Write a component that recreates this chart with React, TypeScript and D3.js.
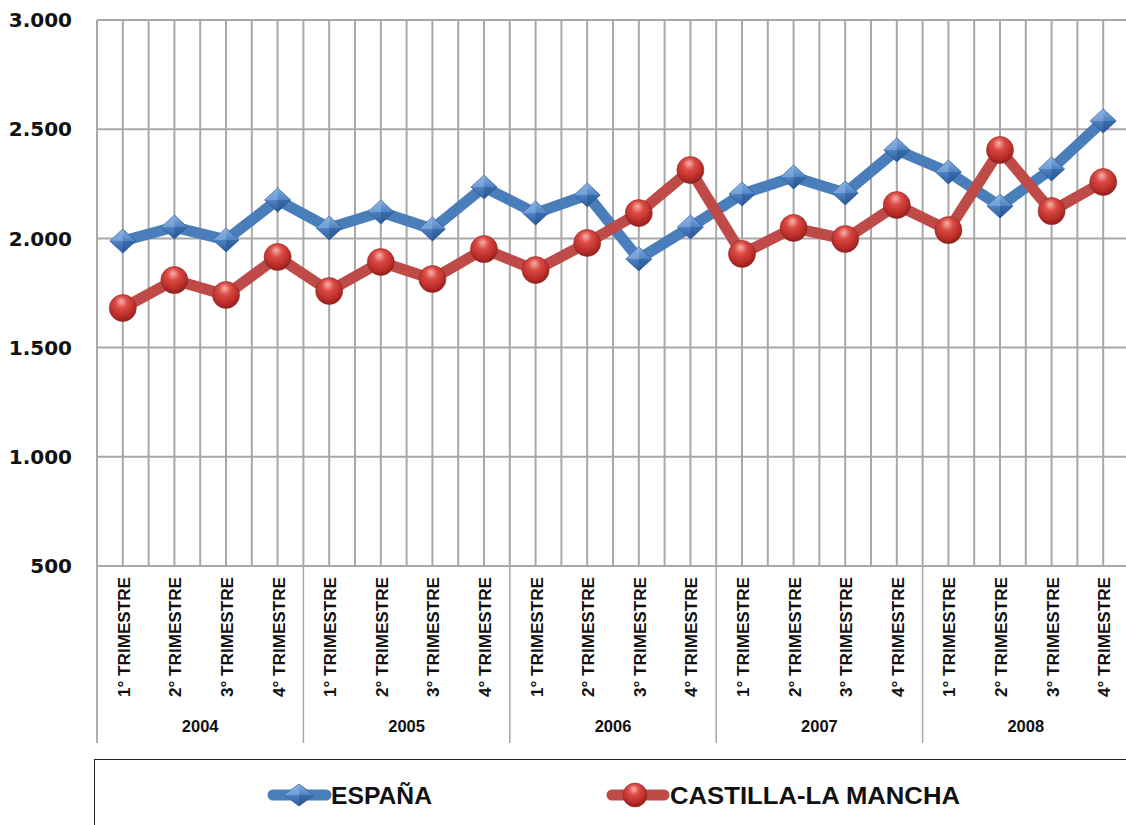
import React from "react";
import * as d3 from "d3";

const years = ["2004", "2005", "2006", "2007", "2008"];
const quarters = ["1° TRIMESTRE", "2° TRIMESTRE", "3° TRIMESTRE", "4° TRIMESTRE"];
const espana = [1988, 2052, 1993, 2176, 2048, 2121, 2043, 2235, 2116, 2199, 1906, 2052, 2203, 2281, 2208, 2405, 2304, 2148, 2318, 2538];
const castilla = [1681, 1809, 1741, 1915, 1759, 1892, 1814, 1951, 1855, 1979, 2116, 2313, 1929, 2048, 1997, 2153, 2038, 2405, 2125, 2258];
const yTicks = [500, 1000, 1500, 2000, 2500, 3000];
const seriesNames = ["ESPAÑA", "CASTILLA-LA MANCHA"];

const W = 1126;
const H = 825;
const left = 97;
const right = 1129;
const top = 20;
const bottom = 566;
const catBottom = 743;

const fmt = d3.formatLocale({ decimal: ",", thousands: ".", grouping: [3], currency: ["", ""] }).format(",");

export default function App() {
  const idx = d3.range(espana.length);
  const x = d3.scaleBand<number>().domain(idx).range([left, right]).padding(0);
  const bw = x.bandwidth();
  const cx = (i: number) => (x(i) as number) + bw / 2;
  const y = d3.scaleLinear().domain([500, 3000]).range([bottom, top]);
  const line = d3.line<number>().x((_, i) => cx(i)).y((d) => y(d));

  const gridColor = "#a8a8a8";
  const blue = "#4a7ebb";
  const red = "#be4b48";

  const diamond = (px: number, py: number, key: string, w = 13, h = 12) => (
    <g key={key}>
      <path d={`M${px - w},${py} L${px},${py - h} L${px + w},${py} L${px},${py + h} Z`} fill="url(#dia)" stroke="#31609c" strokeWidth={0.8} />
      <path d={`M${px - w},${py} L${px},${py - h} L${px},${py} Z`} fill="#8fb6e8" opacity={0.55} />
      <path d={`M${px},${py} L${px + w},${py} L${px},${py + h} Z`} fill="#22508c" opacity={0.45} />
    </g>
  );
  const sphere = (px: number, py: number, key: string, r = 13.5) => (
    <circle key={key} cx={px} cy={py} r={r} fill="url(#sph)" stroke="#8a2a27" strokeWidth={0.6} />
  );

  const boundaries = d3.range(espana.length + 1).map((i) => left + i * bw);
  const yearBounds = d3.range(years.length + 1).map((i) => left + i * 4 * bw);

  return (
    <svg width={W} height={H} style={{ position: "absolute", left: 0, top: 0, background: "#fff" }} fontFamily="'Liberation Sans', Arial, sans-serif">
      <defs>
        <linearGradient id="dia" x1="0" y1="0" x2="0" y2="1">
          <stop offset="0" stopColor="#84acdf" />
          <stop offset="0.5" stopColor="#4f83c4" />
          <stop offset="1" stopColor="#2d5c9b" />
        </linearGradient>
        <radialGradient id="sph" cx="0.45" cy="0.35" r="0.65" fx="0.45" fy="0.25">
          <stop offset="0" stopColor="#f6b3ae" />
          <stop offset="0.35" stopColor="#dc4a44" />
          <stop offset="0.8" stopColor="#b52a26" />
          <stop offset="1" stopColor="#8e1f1c" />
        </radialGradient>
      </defs>
      <rect x={0} y={0} width={W} height={H} fill="#fff" />
      {/* vertical gridlines */}
      {boundaries.map((b, i) => (
        <line key={"vb" + i} x1={b} x2={b} y1={top} y2={bottom} stroke={gridColor} strokeWidth={2} />
      ))}
      {idx.map((i) => (
        <line key={"vc" + i} x1={cx(i)} x2={cx(i)} y1={top} y2={bottom} stroke={gridColor} strokeWidth={2} />
      ))}
      {/* horizontal gridlines */}
      {yTicks.map((t) => (
        <line key={"h" + t} x1={left} x2={right} y1={y(t)} y2={y(t)} stroke={gridColor} strokeWidth={2} />
      ))}
      {/* category axis lines */}
      <line x1={left} x2={left} y1={top} y2={catBottom} stroke={gridColor} strokeWidth={1.5} />
      {yearBounds.map((b, i) => (
        <line key={"yb" + i} x1={b} x2={b} y1={bottom} y2={catBottom} stroke={gridColor} strokeWidth={1.5} />
      ))}
      {/* y labels */}
      {yTicks.map((t) => (
        <text key={"yl" + t} x={72} y={y(t)} dy="0.36em" textAnchor="end" fontFamily="'DejaVu Sans', sans-serif" fontWeight="bold" fontSize={20} fill="#111">
          {fmt(t)}
        </text>
      ))}
      {/* quarter labels */}
      {idx.map((i) => (
        <text
          key={"q" + i}
          transform={`translate(${cx(i) + 7},${697}) rotate(-90)`}
          fontWeight="bold"
          fontSize={16.5}
          textLength={120}
          lengthAdjust="spacingAndGlyphs"
          fill="#111"
        >
          {quarters[i % 4]}
        </text>
      ))}
      {/* year labels */}
      {years.map((yr, i) => (
        <text key={"yr" + i} x={(yearBounds[i] + yearBounds[i + 1]) / 2} y={732} textAnchor="middle" fontWeight="bold" fontSize={16.5} fill="#111">
          {yr}
        </text>
      ))}
      {/* series */}
      <path d={line(espana) || ""} fill="none" stroke={blue} strokeWidth={11} strokeLinejoin="round" />
      {espana.map((v, i) => diamond(cx(i), y(v), "d" + i))}
      <path d={line(castilla) || ""} fill="none" stroke={red} strokeWidth={11} strokeLinejoin="round" />
      {castilla.map((v, i) => sphere(cx(i), y(v), "s" + i))}
      {/* legend */}
      <rect x={94.5} y={759.5} width={1100} height={100} fill="#fff" stroke="#222" strokeWidth={1} />
      <line x1={273} x2={326} y1={795} y2={795} stroke={blue} strokeWidth={11} strokeLinecap="round" />
      {diamond(299, 795, "ld", 15, 11)}
      <text x={331} y={803.5} fontWeight="bold" fontSize={23} textLength={101} lengthAdjust="spacingAndGlyphs" fill="#111">
        {seriesNames[0]}
      </text>
      <line x1={612} x2={664} y1={795} y2={795} stroke={red} strokeWidth={11} strokeLinecap="round" />
      {sphere(635, 795, "ls", 12)}
      <text x={670} y={803.5} fontWeight="bold" fontSize={23} textLength={290} lengthAdjust="spacingAndGlyphs" fill="#111">
        {seriesNames[1]}
      </text>
    </svg>
  );
}
